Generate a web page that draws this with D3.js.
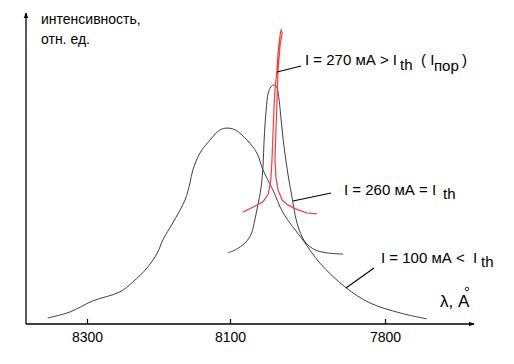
<!DOCTYPE html>
<html>
<head>
<meta charset="utf-8">
<script src="https://cdn.jsdelivr.net/npm/d3@7"></script>
<style>
  body { margin: 0; background: #fff; }
  text { font-family: "Liberation Sans", Arial, sans-serif; fill: #000; }
</style>
</head>
<body>
<div class="chart"></div>
<script>
// wavelength ticks (A), the axis runs from long to short waves
var ticks = [8300, 8100, 7800];

// I = 100 mA (below threshold), wavelength / relative intensity
var lam100 = [8355, 8324, 8292, 8254, 8236, 8216, 8201, 8194, 8180, 8163, 8156, 8152, 8142, 8128, 8114, 8104,
    8090, 8067, 8048, 8036, 8017, 7997, 7959, 7926, 7877, 7829, 7771, 7719];
var int100 = [2.0, 4.0, 7.7, 10.7, 14.0, 18.7, 24.0, 28.0, 33.7, 41.3, 47.0, 51.3, 57.0, 61.3, 64.7, 65.3,
    64.7, 61.3, 57.0, 51.3, 44.7, 37.0, 28.0, 20.3, 12.3, 7.0, 3.7, 1.7];

// I = 260 mA (at threshold)
var lam260 = [8103, 8090, 8071, 8059, 8052, 8046, 8040, 8036, 8034, 8030, 8026, 8021, 8015, 8009, 8005, 8001,
    7997, 7992, 7986, 7980, 7974, 7966, 7953, 7935, 7912, 7881];
var int260 = [23.7, 24.7, 27.0, 30.0, 34.7, 39.7, 45.3, 53.0, 61.3, 71.3, 77.0, 79.0, 79.7, 78.7, 74.7, 68.0,
    61.3, 54.7, 48.0, 42.3, 36.3, 31.3, 27.0, 24.7, 23.7, 23.3];

// I = 270 mA (above threshold, lasing line)
var lam270 = [8075, 8055, 8036, 8026, 8021, 8019, 8017, 8015, 8013, 8009, 8007, 8003, 8001, 7999,
    8003, 8007, 8009, 8011, 8013, 8011, 8007, 7999, 7988, 7972, 7951, 7932];
var int270 = [37.3, 39.0, 40.7, 43.3, 48.0, 53.7, 62.3, 71.3, 78.0, 84.7, 90.3, 96.3, 98.0, 97.0,
    93.0, 84.7, 74.7, 64.7, 54.7, 48.7, 44.7, 41.3, 39.7, 38.3, 37.0, 36.7];

var width = 514, height = 364;
var axisX = 26, axisY = 324;

var svg = d3.select('.chart')
    .append('svg')
    .attr('width', width)
    .attr('height', height);

// hand-drawn original: tick spacing is not uniform
var x = d3.scaleLinear()
    .domain(ticks)
    .range([87, 230, 385]);

var y = d3.scaleLinear()
    .domain([0, 100])
    .range([axisY, 24]);

function zip(a, b) {
    return a.map(function (d, i) { return [d, b[i]]; });
}

var line = d3.line()
    .x(function (d) { return x(d[0]); })
    .y(function (d) { return y(d[1]); });

svg.append('path')
    .attr('d', line.curve(d3.curveCatmullRom.alpha(0.5))(zip(lam100, int100)))
    .attr('fill', 'none')
    .attr('stroke', '#404040')
    .attr('stroke-width', 1);

svg.append('path')
    .attr('d', line.curve(d3.curveCatmullRom.alpha(0.5))(zip(lam260, int260)))
    .attr('fill', 'none')
    .attr('stroke', '#404040')
    .attr('stroke-width', 1);

svg.append('path')
    .attr('d', line.curve(d3.curveLinear)(zip(lam270, int270)))
    .attr('fill', 'none')
    .attr('stroke', '#ff3a3a')
    .attr('stroke-width', 1.2);

// axes
var defs = svg.append('defs');
defs.append('marker')
    .attr('id', 'arr')
    .attr('viewBox', '0 0 10 10')
    .attr('refX', 9)
    .attr('refY', 5)
    .attr('markerWidth', 6)
    .attr('markerHeight', 6)
    .attr('markerUnits', 'userSpaceOnUse')
    .attr('orient', 'auto')
    .append('path')
    .attr('d', 'M0,1L10,5L0,9Z')
    .attr('fill', '#000');

svg.append('line')
    .attr('x1', axisX).attr('y1', axisY)
    .attr('x2', 474).attr('y2', axisY)
    .attr('stroke', '#000')
    .attr('stroke-width', 1.3)
    .attr('marker-end', 'url(#arr)');

svg.append('line')
    .attr('x1', axisX).attr('y1', axisY)
    .attr('x2', axisX).attr('y2', 13)
    .attr('stroke', '#000')
    .attr('stroke-width', 1.3)
    .attr('marker-end', 'url(#arr)');

var xAxis = d3.axisBottom(x)
    .tickValues(ticks)
    .tickSize(-5)
    .tickPadding(8)
    .tickFormat(d3.format('d'));

var gx = svg.append('g')
    .attr('transform', 'translate(0,' + axisY + ')')
    .call(xAxis);
gx.select('.domain').remove();
gx.selectAll('.tick line').attr('stroke', '#000').attr('stroke-width', 1.2);
gx.selectAll('.tick text')
    .style('font-family', '"Liberation Sans", Arial, sans-serif')
    .style('font-size', '14px')
    .attr('fill', '#000');

// axis titles
svg.append('text').attr('x', 41).attr('y', 24).style('font-size', '14px').text('интенсивность,');
svg.append('text').attr('x', 41).attr('y', 44).style('font-size', '14px').text('отн. ед.');

svg.append('text').attr('x', 440).attr('y', 307).style('font-size', '17px').text('λ, A');
svg.append('circle')
    .attr('cx', 467).attr('cy', 289).attr('r', 1.8)
    .attr('fill', 'none').attr('stroke', '#000').attr('stroke-width', 0.8);

// curve labels and leader lines
function leader(x1, y1, x2, y2) {
    svg.append('line')
        .attr('x1', x1).attr('y1', y1).attr('x2', x2).attr('y2', y2)
        .attr('stroke', '#000').attr('stroke-width', 1.1);
}

function label(parts) {
    parts.forEach(function (p) {
        svg.append('text')
            .attr('x', p[0]).attr('y', p[1])
            .style('font-size', '15px')
            .text(p[2]);
    });
}

leader(277, 72, 301, 66);
label([[305, 65, 'I = 270 мА > I'], [400, 70, 'th'], [421, 65, '( I'], [434, 71, 'пор'], [462, 65, ')']]);

leader(293, 201, 331, 193);
label([[344, 195, 'I = 260 мА ='], [432, 195, 'I'], [443, 199, 'th']]);

leader(346, 288, 374, 268);
label([[381, 263, 'I = 100 мА <'], [473, 263, 'I'], [481, 267, 'th']]);
</script>
</body>
</html>
